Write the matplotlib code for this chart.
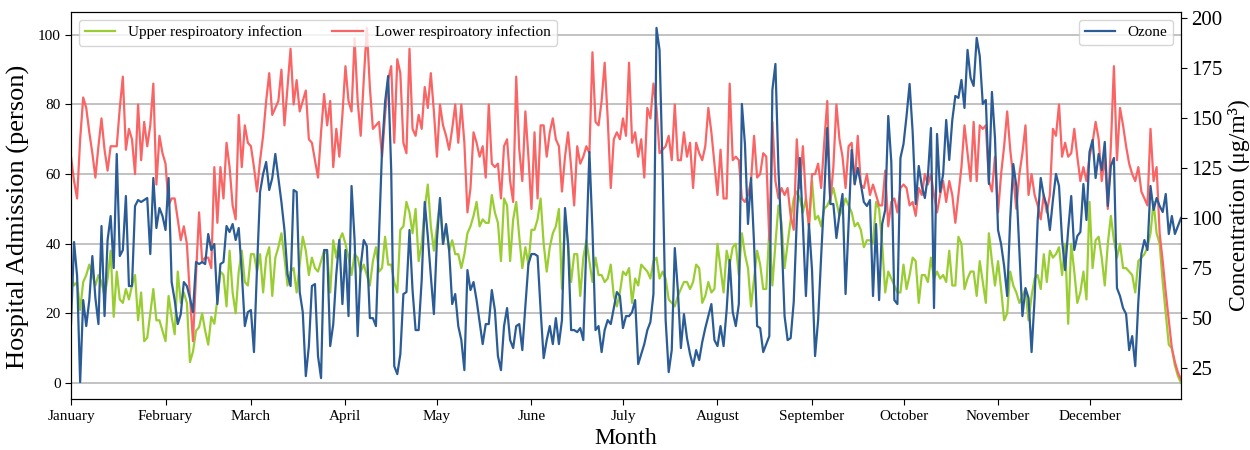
import numpy as np
import matplotlib
matplotlib.use("Agg")
import matplotlib.pyplot as plt

# ---- data -----------------------------------------------------------------
months = ["January", "February", "March", "April", "May", "June", "July",
          "August", "September", "October", "November", "December"]
month_start_days = [0, 31, 59, 90, 120, 151, 181, 212, 243, 273, 304, 334]

# daily hospital admissions (person)
upper_resp = [
    31, 28, 29, 21, 29, 31, 34, 31, 28, 31, 29, 25, 30, 38, 19, 32, 24, 23, 27, 24, 28, 31, 18, 26, 12, 13, 20, 27, 18, 18, 15, 12, 25, 19, 14, 32, 23, 26, 23, 6, 9, 15, 16, 20,
    15, 11, 19, 17, 24, 32, 31, 22, 38, 26, 20, 32, 38, 29, 28, 37, 37, 32, 37, 26, 36, 39, 25, 36, 39, 43, 36, 28, 32, 33, 26, 34, 42, 38, 31, 36, 33, 32, 35, 38, 37, 26, 41, 36, 41, 43, 40,
    36, 31, 37, 36, 32, 34, 31, 28, 35, 39, 32, 33, 42, 34, 34, 29, 26, 44, 45, 52, 49, 43, 50, 35, 40, 50, 57, 45, 38, 45, 52, 40, 45, 38, 41, 37, 37, 33, 37, 43, 45, 48, 52, 45, 47, 46,
    46, 54, 49, 46, 35, 53, 51, 35, 47, 52, 42, 33, 39, 34, 44, 44, 47, 53, 40, 32, 39, 43, 45, 50, 27, 48, 40, 29, 37, 37, 25, 36, 41, 35, 29, 36, 31, 31, 29, 30, 34, 25, 22, 26, 32, 31,
    33, 23, 30, 28, 34, 33, 32, 30, 35, 36, 30, 32, 30, 24, 23, 22, 25, 27, 29, 29, 27, 29, 34, 33, 23, 25, 29, 26, 27, 40, 33, 26, 38, 34, 39, 40, 31, 43, 37, 33, 22, 30, 38, 34, 27, 27,
    44, 28, 40, 51, 46, 33, 40, 47, 53, 55, 53, 49, 53, 45, 58, 47, 48, 45, 50, 51, 53, 56, 52, 48, 50, 53, 51, 49, 45, 46, 44, 39, 41, 41, 40, 52, 50, 40, 26, 32, 30, 28, 26, 26, 34,
    27, 31, 36, 35, 23, 31, 31, 29, 36, 30, 32, 30, 31, 29, 38, 28, 28, 42, 40, 27, 30, 32, 32, 25, 35, 29, 23, 43, 35, 28, 35, 27, 18, 20, 32, 28, 26, 23, 25, 27, 18, 25, 30, 31, 27, 37, 29,
    38, 36, 37, 39, 31, 40, 17, 40, 32, 23, 26, 32, 24, 52, 33, 41, 42, 36, 28, 40, 48, 41, 36, 40, 33, 33, 32, 31, 26, 35, 36, 37, 39, 43, 52, 43, 40, 29, 20, 11, 10, 5, 2, 0,
]

lower_resp = [
    65, 58, 53, 70, 82, 79, 72, 66, 59, 68, 76, 67, 61, 68, 68, 68, 79, 88, 67, 73, 70, 60, 80, 64, 75, 68, 74, 86, 57, 71, 66, 63, 51, 53, 53, 47, 41, 45, 40, 25, 12, 31, 49, 35,
    36, 36, 33, 62, 46, 62, 53, 69, 62, 51, 47, 77, 62, 74, 69, 68, 62, 55, 64, 71, 81, 89, 77, 79, 81, 90, 74, 85, 96, 80, 87, 78, 81, 84, 70, 69, 64, 59, 72, 83, 74, 81, 62, 73, 65, 77, 91,
    81, 78, 99, 81, 71, 87, 102, 85, 73, 74, 75, 65, 77, 87, 91, 69, 93, 89, 69, 66, 96, 73, 71, 77, 73, 85, 79, 89, 78, 65, 80, 74, 71, 67, 73, 80, 69, 80, 69, 49, 56, 72, 69, 65, 68, 59,
    80, 63, 62, 63, 53, 68, 70, 58, 52, 88, 67, 58, 78, 65, 50, 72, 53, 74, 74, 65, 72, 76, 70, 68, 55, 65, 72, 62, 51, 68, 63, 65, 68, 66, 95, 75, 74, 81, 92, 76, 56, 70, 72, 70, 76, 71,
    92, 69, 72, 65, 70, 59, 79, 76, 86, 79, 66, 67, 68, 71, 64, 80, 64, 64, 72, 65, 69, 56, 69, 66, 64, 68, 79, 72, 63, 54, 67, 53, 53, 86, 64, 65, 64, 53, 52, 54, 58, 71, 59, 60, 66, 65, 41,
    75, 58, 53, 56, 54, 56, 48, 44, 70, 56, 68, 53, 45, 60, 60, 63, 56, 69, 81, 52, 62, 80, 70, 65, 56, 68, 69, 57, 71, 57, 56, 60, 54, 57, 54, 51, 51, 61, 45, 52, 53, 49, 56, 57,
    56, 51, 52, 48, 56, 54, 60, 57, 60, 54, 49, 54, 58, 52, 58, 54, 46, 54, 62, 74, 66, 58, 75, 58, 74, 73, 74, 58, 55, 65, 49, 60, 68, 78, 67, 59, 50, 60, 66, 74, 54, 60, 54, 51, 47, 54, 49,
    54, 73, 71, 80, 65, 69, 65, 66, 73, 65, 58, 62, 58, 65, 69, 75, 70, 58, 65, 50, 68, 91, 64, 79, 74, 68, 63, 60, 58, 62, 55, 53, 51, 73, 58, 62, 43, 35, 26, 18, 10, 6, 3, 1,
]

# daily ozone concentration (ug/m3)
ozone = [
    47, 88, 71, 18, 59, 46, 59, 81, 60, 47, 96, 51, 89, 101, 75, 132, 81, 84, 111, 66, 66, 106, 109, 108, 109, 110, 82, 120, 95, 105, 101, 94, 120, 68, 59, 47, 52, 68, 66, 60, 53, 78, 77, 78,
    77, 92, 84, 87, 57, 77, 78, 96, 93, 97, 89, 95, 73, 46, 53, 54, 33, 75, 113, 122, 128, 114, 120, 132, 120, 108, 94, 72, 66, 114, 113, 63, 53, 21, 36, 66, 67, 31, 20, 84, 84, 36, 47, 72, 89, 57, 84,
    51, 116, 89, 41, 76, 89, 86, 50, 50, 46, 91, 134, 158, 171, 124, 26, 22, 32, 62, 63, 94, 64, 44, 44, 69, 108, 91, 71, 52, 89, 110, 87, 97, 84, 57, 62, 46, 39, 24, 74, 64, 68, 59, 48, 37, 47,
    47, 64, 54, 31, 24, 46, 55, 39, 35, 46, 47, 34, 56, 77, 82, 82, 81, 54, 30, 39, 46, 37, 50, 37, 49, 105, 87, 44, 44, 43, 45, 39, 87, 133, 94, 44, 46, 33, 44, 49, 47, 55, 63, 61, 45, 51,
    51, 53, 59, 27, 32, 37, 44, 48, 62, 195, 184, 124, 49, 23, 34, 85, 64, 35, 52, 40, 32, 26, 34, 29, 38, 45, 51, 57, 39, 36, 46, 36, 54, 79, 53, 46, 57, 157, 137, 97, 120, 87, 46, 45, 33, 37, 41,
    164, 177, 124, 91, 51, 39, 40, 58, 99, 130, 97, 61, 97, 74, 31, 49, 81, 111, 145, 107, 107, 90, 102, 112, 62, 97, 134, 117, 125, 117, 108, 106, 109, 61, 97, 59, 97, 104, 151, 128, 59, 57, 130, 137,
    151, 167, 143, 107, 126, 116, 110, 121, 145, 55, 142, 113, 122, 149, 129, 149, 161, 160, 169, 155, 184, 170, 166, 190, 181, 157, 159, 117, 163, 140, 94, 87, 76, 61, 100, 127, 116, 84, 51, 65, 60, 33, 60, 99, 120, 111, 106,
    94, 109, 122, 116, 89, 74, 94, 111, 84, 91, 93, 117, 99, 133, 139, 120, 132, 124, 138, 106, 126, 130, 65, 61, 55, 52, 34, 41, 26, 58, 82, 89, 84, 116, 104, 110, 106, 103, 112, 92, 101, 92, 96, 100,
]

assert len(upper_resp) == len(lower_resp) == len(ozone), \
    (len(upper_resp), len(lower_resp), len(ozone))

days = np.arange(len(ozone))

# ---- style ----------------------------------------------------------------
plt.rcParams["font.family"] = ["Liberation Serif", "DejaVu Serif"]
GREEN = "#9ACD32"
RED = "#FA6464"
BLUE = "#2B5C96"

fig = plt.figure(figsize=(12.5, 4.5), dpi=100)
ax1 = fig.add_axes([0.0568, 0.1126, 0.888, 0.861])

ax1.plot(days, upper_resp, color=GREEN, lw=1.6, label="Upper respiroatory infection")
ax1.plot(days, lower_resp, color=RED, lw=1.6, label="Lower respiroatory infection")
ax1.set_xlim(0, len(days) - 1)
ax1.set_ylim(-4.7, 106.6)
ax1.set_yticks(range(0, 101, 20))
ax1.yaxis.grid(True, color="#b8b8b8", lw=1.2)
ax1.set_axisbelow(True)
ax1.set_xticks(month_start_days)
ax1.set_xticklabels(months, fontsize=11)
ax1.tick_params(axis="y", labelsize=11)
ax1.tick_params(direction="out", length=4)
ax1.set_ylabel("Hospital Admission (person)", fontsize=19)
ax1.yaxis.set_label_coords(-0.037, 0.47)
ax1.set_xlabel("Month", fontsize=17, labelpad=4)

ax2 = ax1.twinx()
ax2.plot(days, ozone, color=BLUE, lw=1.6, label="Ozone")
ax2.set_ylim(9.4, 203)
ax2.set_yticks(range(25, 201, 25))
ax2.tick_params(axis="y", labelsize=15, direction="out", length=4)
ax2.set_ylabel("Concentration (μg/m³)", fontsize=17)

ax1.legend(loc="upper left", ncol=2, fontsize=11)
ax2.legend(loc="upper right", fontsize=11)

fig.savefig("out.png", dpi=100)
